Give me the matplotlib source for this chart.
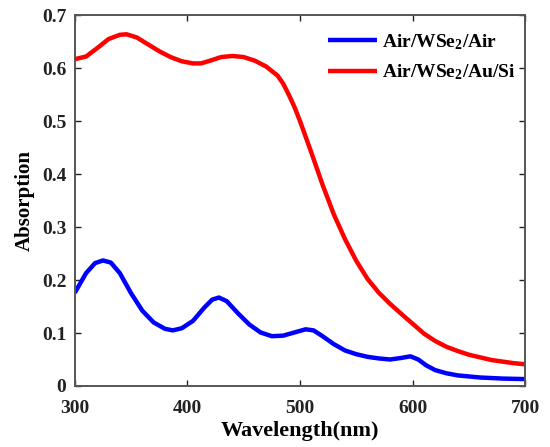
import matplotlib
matplotlib.use("Agg")
import matplotlib.pyplot as plt

# wavelength (nm) and absorption
wl_red = [300, 310, 320, 330, 340, 346, 355, 365, 375, 385, 395, 405, 412, 420,
          430, 440, 450, 460, 470, 480, 485, 490, 495, 500, 510, 520, 530, 540,
          550, 560, 570, 580, 590, 597, 603, 610, 620, 630, 640, 650, 660, 670,
          680, 690, 700]
abs_red = [0.617, 0.622, 0.638, 0.655, 0.663, 0.664, 0.658, 0.645, 0.632, 0.621,
           0.613, 0.609, 0.609, 0.614, 0.621, 0.623, 0.621, 0.614, 0.603, 0.586,
           0.571, 0.550, 0.527, 0.500, 0.441, 0.380, 0.324, 0.277, 0.236, 0.202,
           0.176, 0.155, 0.136, 0.123, 0.112, 0.099, 0.085, 0.074, 0.066, 0.059,
           0.054, 0.049, 0.046, 0.043, 0.041]

wl_blue = [300, 310, 318, 325, 332, 340, 350, 360, 370, 380, 387, 395, 405, 415,
           422, 428, 435, 445, 455, 465, 475, 485, 495, 505, 512, 520, 530, 540,
           550, 560, 570, 580, 590, 598, 605, 612, 620, 630, 640, 650, 660, 680, 700]
abs_blue = [0.176, 0.213, 0.232, 0.237, 0.233, 0.213, 0.175, 0.142, 0.120, 0.108,
            0.105, 0.109, 0.123, 0.148, 0.163, 0.167, 0.160, 0.137, 0.116, 0.101,
            0.094, 0.095, 0.101, 0.107, 0.105, 0.094, 0.079, 0.067, 0.060, 0.055,
            0.052, 0.050, 0.053, 0.056, 0.050, 0.039, 0.030, 0.024, 0.020, 0.018,
            0.016, 0.014, 0.013]

x_ticks = [300, 400, 500, 600, 700]
y_ticks = [0, 0.1, 0.2, 0.3, 0.4, 0.5, 0.6, 0.7]
y_ticklabels = ["0", "0.1", "0.2", "0.3", "0.4", "0.5", "0.6", "0.7"]

plt.rcParams["font.family"] = ["Liberation Serif", "DejaVu Serif"]
plt.rcParams["font.weight"] = "bold"
plt.rcParams["mathtext.fontset"] = "custom"
plt.rcParams["mathtext.rm"] = "Liberation Serif:bold"
plt.rcParams["mathtext.bf"] = "Liberation Serif:bold"
plt.rcParams["mathtext.default"] = "bf"

fig = plt.figure(figsize=(5.5, 4.47), dpi=100)
ax = fig.add_axes([0.136, 0.1365, 0.819, 0.8295])

ax.plot(wl_blue, abs_blue, color="#0000ff", lw=3.2, label=r"Air/WSe$_2$/Air",
        solid_joinstyle="round", solid_capstyle="butt")
ax.plot(wl_red, abs_red, color="#ff0000", lw=3.2, label=r"Air/WSe$_2$/Au/Si",
        solid_joinstyle="round", solid_capstyle="butt")

ax.set_xlim(300, 700)
ax.set_ylim(0, 0.7)
ax.set_xticks(x_ticks)
ax.set_yticks(y_ticks)
ax.set_yticklabels(y_ticklabels)
ax.tick_params(direction="in", length=4, width=1, top=True, right=True,
               labelsize=14, colors="#222222")
ax.tick_params(axis="x", pad=10)
ax.tick_params(axis="y", pad=6)
for s in ax.spines.values():
    s.set_color("#555555")
    s.set_linewidth(1.4)

ax.set_xlabel("Wavelength(nm)", fontsize=16, fontweight="bold", labelpad=3)
ax.set_ylabel("Absorption", fontsize=15, fontweight="bold", labelpad=5)

ax.legend(loc="upper right", frameon=False, fontsize=14, handlelength=2.5,
          handletextpad=0.25, labelspacing=0.55, borderaxespad=0.0,
          bbox_to_anchor=(0.995, 0.975))

fig.savefig("out.png", dpi=100)
